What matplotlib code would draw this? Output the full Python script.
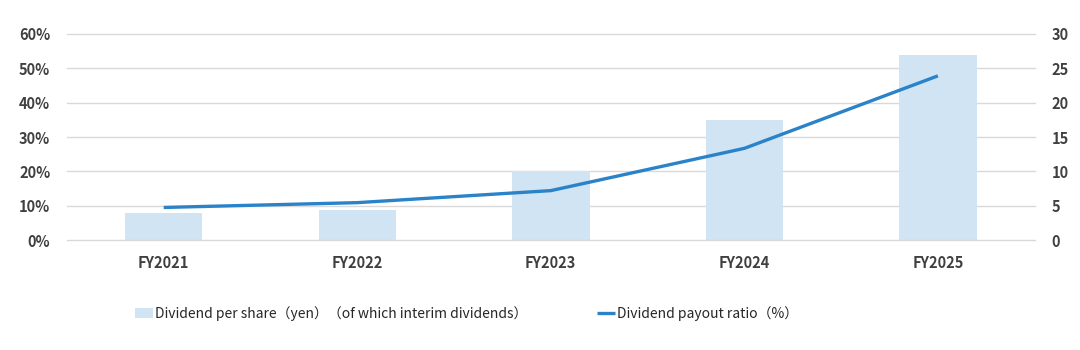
import matplotlib
matplotlib.use('Agg')
import matplotlib.pyplot as plt
from matplotlib.ticker import PercentFormatter
import numpy as np

plt.rcParams['font.family'] = ['Noto Sans CJK JP', 'DejaVu Sans']

# Fiscal years and the two series
years = ['FY2021', 'FY2022', 'FY2023', 'FY2024', 'FY2025']
dividend_yen = [4, 4.4, 10, 17.5, 27]           # right axis (yen)
payout_ratio = [9.5, 10.9, 14.4, 26.7, 47.8]    # left axis (%)

bar_color = '#D0E4F3'
line_color = '#2A83C9'
grid_color = '#D9D9D9'
text_color = '#404040'

fig = plt.figure(figsize=(10.8, 3.5), dpi=100)
ax = fig.add_axes([0.062, 0.314, 0.896, 0.589])
ax2 = ax.twinx()

x = np.arange(len(years))

# bars on the yen axis
ax2.bar(x, dividend_yen, width=0.4, color=bar_color, zorder=2,
        label='Dividend per share（yen）（of which interim dividends）')
ax2.set_ylim(0, 30)
ax2.set_yticks(np.arange(0, 31, 5))

# payout ratio line on the percent axis, drawn above the bars
ax.set_zorder(ax2.get_zorder() + 1)
ax.patch.set_visible(False)
ax.plot(x, payout_ratio, color=line_color, lw=2.4, solid_capstyle='butt',
        label='Dividend payout ratio（%）')
ax.set_ylim(0, 60)
ax.set_yticks(np.arange(0, 61, 10))
ax.yaxis.set_major_formatter(PercentFormatter(decimals=0))
ax.set_xlim(-0.5, len(years) - 0.5)
ax.set_xticks(x)
ax.set_xticklabels(years)

# gridlines behind the bars
for v in np.arange(0, 31, 5):
    ax2.axhline(v, color=grid_color, lw=1, zorder=0 if v else 3, clip_on=False)

for a in (ax, ax2):
    for s in a.spines.values():
        s.set_visible(False)
    a.tick_params(length=0, labelsize=10.5, colors=text_color)
ax.tick_params(axis='y', pad=12)
ax2.tick_params(axis='y', pad=12)
ax.tick_params(axis='x', pad=11)
for lab in ax.get_xticklabels() + ax.get_yticklabels() + ax2.get_yticklabels():
    lab.set_fontweight('bold')

h1, l1 = ax2.get_legend_handles_labels()
h2, l2 = ax.get_legend_handles_labels()
fig.legend(h1 + h2, l1 + l2, loc='center left', bbox_to_anchor=(0.12, 0.105),
           ncol=2, frameon=False, columnspacing=5.0, borderaxespad=0,
           prop={'size': 10},
           handlelength=1.3, handletextpad=0.15, labelcolor='#262626')

fig.savefig('out.png', dpi=100)
